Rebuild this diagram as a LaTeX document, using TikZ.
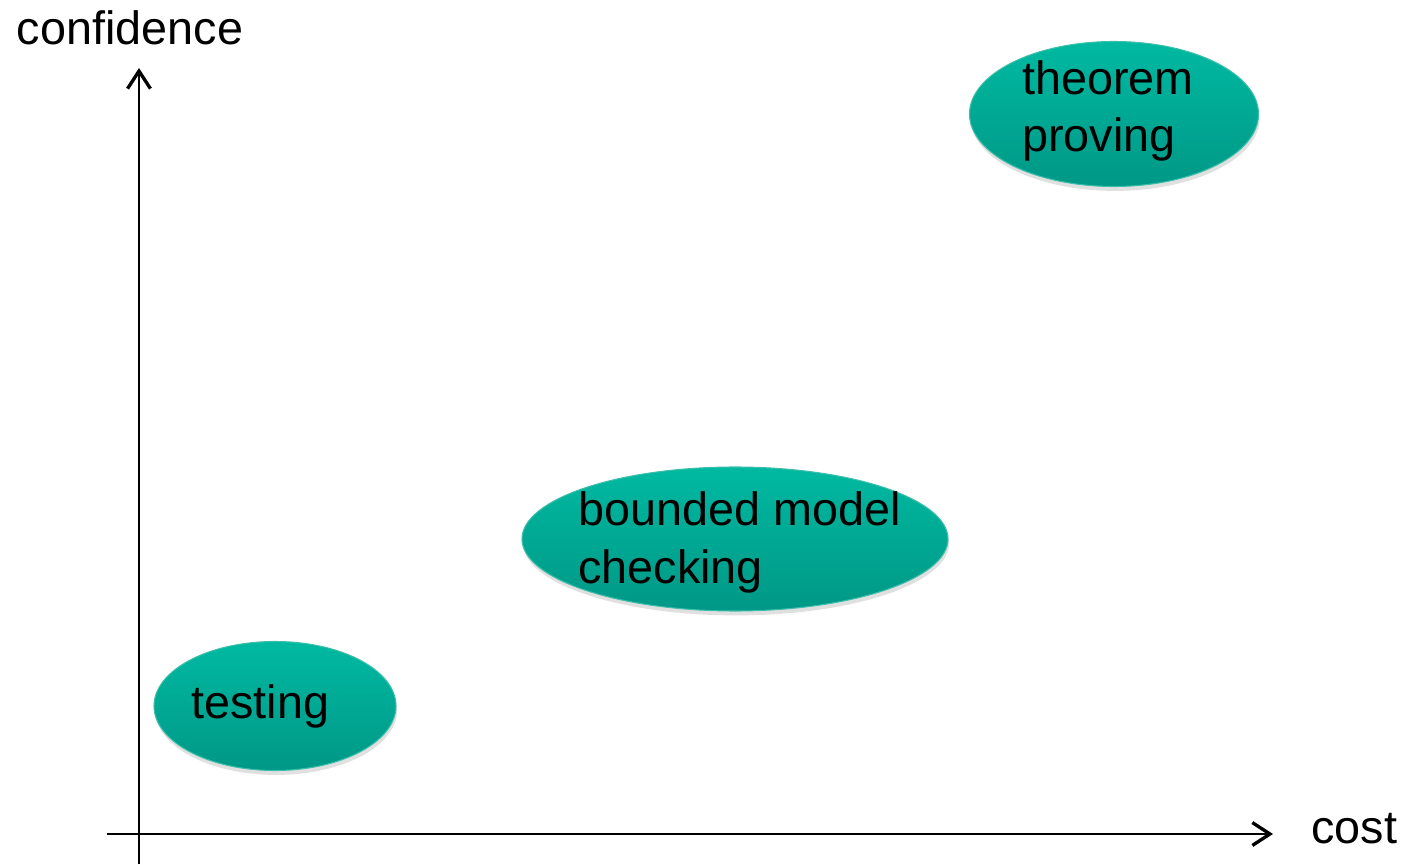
\documentclass[tikz,border=0pt]{standalone}
\usepackage{fontspec}
\setmainfont{Liberation Sans}
\usepackage{tikz}
\usetikzlibrary{arrows.meta, shapes.geometric, shadows}
\definecolor{TealTop}{HTML}{00B9A1}
\definecolor{TealBot}{HTML}{009886}
\definecolor{TealEdge}{HTML}{3CBFAA}

\begin{document}
\begin{tikzpicture}[
          font=\fontsize{26.6}{32.9}\selectfont,
          blob/.style={ellipse, inner sep=0pt, draw=TealEdge, line width=0.6pt,
                       top color=TealTop, bottom color=TealBot,
                       drop shadow={shadow xshift=0.6pt, shadow yshift=-2.5pt, fill=black, opacity=0.12}},
          lbl/.style={inner sep=0pt, align=left, anchor=base west},
          axis/.style={line width=1.1pt, -{Straight Barb[length=10pt, width=13pt, line width=1.9pt]}}
        ]
          \useasboundingbox (0,0) rectangle (28.14,17.28);

          % axes
          \coordinate (yfoot) at (2.78,0);
          \coordinate (ytip) at (2.78,15.92);
          \coordinate (xfoot) at (2.14,0.6);
          \coordinate (xtip) at (25.46,0.6);
          \draw[axis] (yfoot) -- (ytip);
          \draw[axis] (xfoot) -- (xtip);
          \node[inner sep=0pt, anchor=base] (conf) at (2.6,16.38) {confidence};
          \node[lbl] (cost) at (26.22,0.42) {cost};

          % methods (base = last line)
          \node[blob, minimum width=5.78cm, minimum height=2.9cm] (tp) at (22.28,15.0) {};
          \node[lbl] (tptext) at (20.44,14.24) {theorem\\proving};

          \node[blob, minimum width=8.52cm, minimum height=2.88cm] (bmc) at (14.70,6.50) {};
          \node[lbl] (bmctext) at (11.56,5.62) {bounded model\\checking};

          \node[blob, minimum width=4.84cm, minimum height=2.58cm] (test) at (5.50,3.16) {};
          \node[lbl] (testtext) at (3.82,2.92) {testing};
        \end{tikzpicture}
\end{document}
